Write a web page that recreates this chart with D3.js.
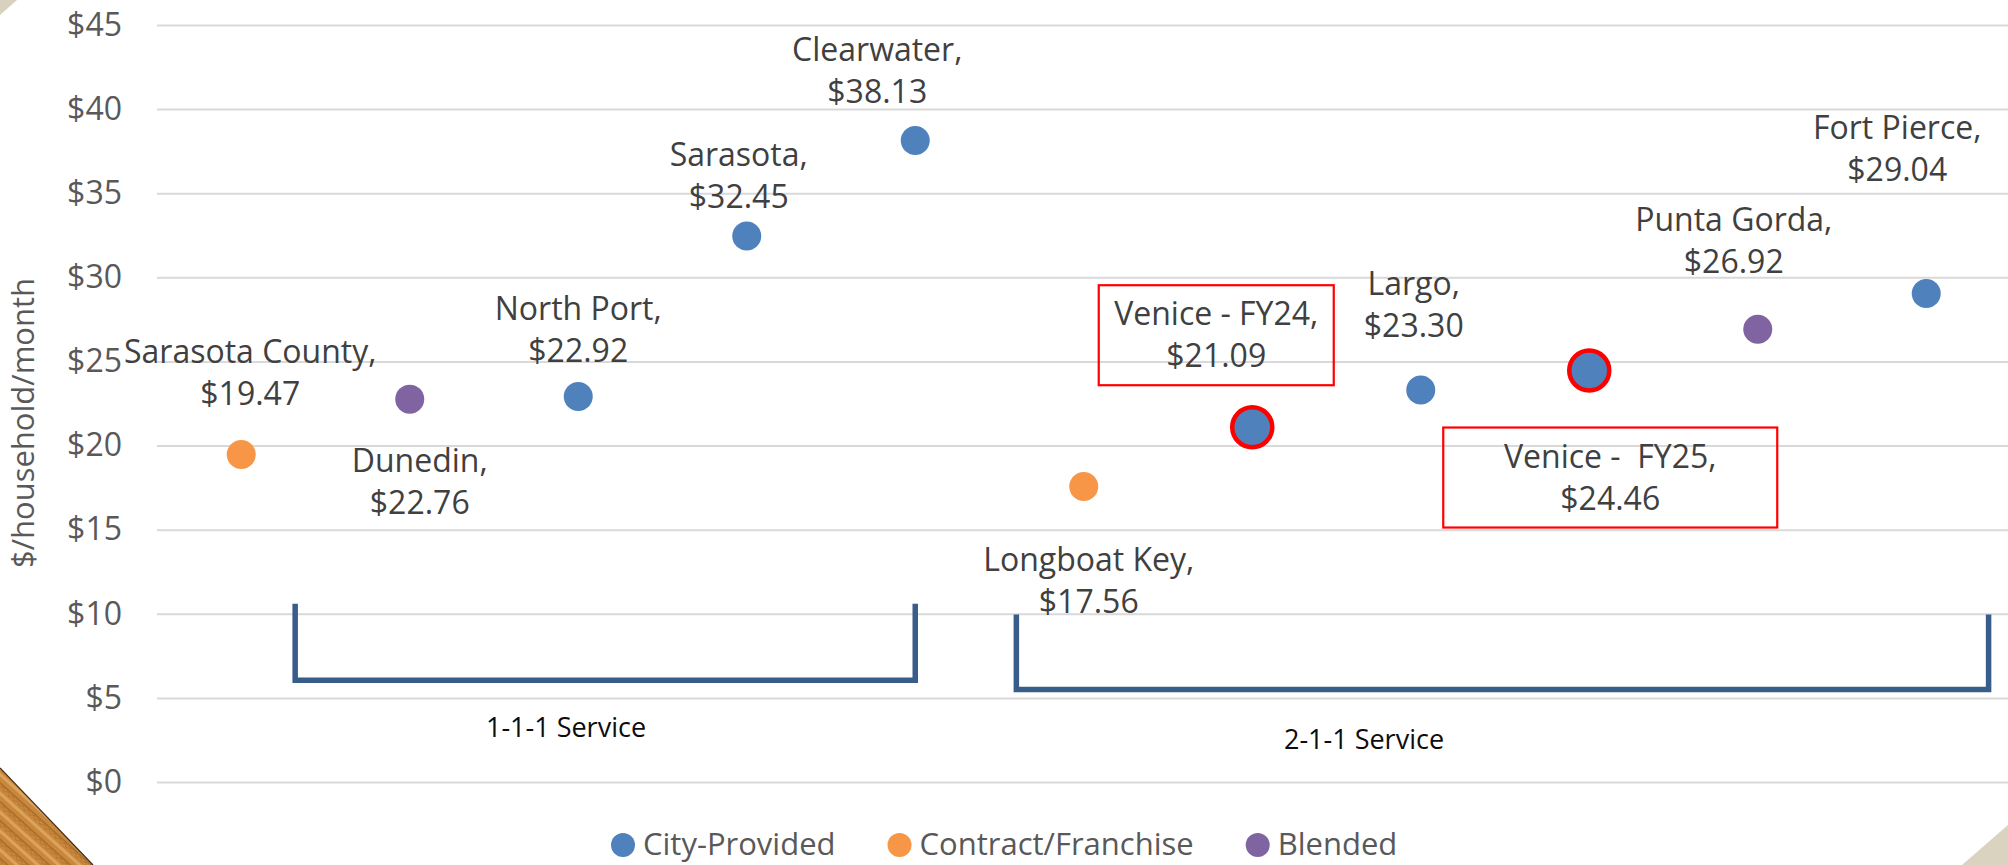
<!DOCTYPE html>
<html>
<head>
<meta charset="utf-8">
<script src="https://cdn.jsdelivr.net/npm/d3@7"></script>
<style>
  html, body { margin: 0; padding: 0; background: #fff; overflow: hidden; }
  svg { display: block; font-family: 'Open Sans', 'Noto Sans', sans-serif; }
</style>
</head>
<body>
<script>
// Data
const cities = ['Sarasota County', 'Dunedin', 'North Port', 'Sarasota', 'Clearwater',
  'Longboat Key', 'Venice - FY24', 'Largo', 'Venice -  FY25', 'Punta Gorda', 'Fort Pierce'];
const rates = [19.47, 22.76, 22.92, 32.45, 38.13, 17.56, 21.09, 23.30, 24.46, 26.92, 29.04];
const serviceTypes = ['Contract/Franchise', 'Blended', 'City-Provided', 'City-Provided', 'City-Provided',
  'Contract/Franchise', 'City-Provided', 'City-Provided', 'City-Provided', 'Blended', 'City-Provided'];
const highlighted = ['Venice - FY24', 'Venice -  FY25'];
const legendItems = ['City-Provided', 'Contract/Franchise', 'Blended'];
const yTicks = [0, 5, 10, 15, 20, 25, 30, 35, 40, 45];

// Service groups (bracket spans, in categories and $ values)
const groupNames = ['1-1-1 Service', '2-1-1 Service'];
const groupFrom = ['Sarasota County', 'Longboat Key'];
const groupTo = ['Clearwater', 'Fort Pierce'];
const groupTop = [10.6, 9.95];
const groupBottom = [6.05, 5.5];

// Layout: label offsets from each point (px), boxes, bracket end shifts (in bands)
const labelOffsets = [[9, -102], [10, 62], [0, -87], [-8, -81], [-38, -91], [5, 73],
  [-36, -113], [-7, -106], [21, 86], [-24, -109], [-29, -165]];
const boxSizes = { 'Venice - FY24': [235, 100], 'Venice -  FY25': [334, 100] };
const groupShift = [[0.32, 0], [-0.4, 0.37]];
const groupLabelPos = [[566, 737], [1364, 749]];

const W = 2008, H = 865;
const colors = d3.scaleOrdinal()
  .domain(legendItems)
  .range(['#4F81BD', '#F79646', '#8064A2']);

const svg = d3.select('body').append('svg')
  .attr('width', W)
  .attr('height', H);

// Slide decorations
const defs = svg.append('defs');
const pat = defs.append('pattern')
  .attr('id', 'wood')
  .attr('patternUnits', 'userSpaceOnUse')
  .attr('width', 14).attr('height', 14)
  .attr('patternTransform', 'rotate(42)');
pat.append('rect').attr('width', 14).attr('height', 14).attr('fill', '#C8883C');
pat.append('rect').attr('y', 0).attr('width', 14).attr('height', 3).attr('fill', '#DDA25C');
pat.append('rect').attr('y', 7).attr('width', 14).attr('height', 1.5).attr('fill', '#A9692A');
pat.append('path').attr('d', 'M0,12 L4,9 L7,12 L11,9 L14,12').attr('stroke', '#B27130').attr('fill', 'none');

svg.append('polygon')
  .attr('points', '0,0 17,0 0,15')
  .attr('fill', '#D8D1BE');
svg.append('polygon')
  .attr('points', '0,768 93,865 0,865')
  .attr('fill', 'url(#wood)');
svg.append('line')
  .attr('x1', 0).attr('y1', 768).attr('x2', 93).attr('y2', 865)
  .attr('stroke', '#3a2a1a').attr('stroke-width', 1.2);
svg.append('polygon')
  .attr('points', '1962,865 2008,825 2008,865')
  .attr('fill', '#D9D3C0');

// Scales
const x = d3.scaleBand().domain(cities).range([157, 2010.5]);
const cx = c => x(c) + x.bandwidth() / 2;
const y = d3.scaleLinear().domain([0, 45]).range([782, 25]);

// Y axis with gridlines
const yAxis = svg.append('g')
  .attr('transform', 'translate(157,0)')
  .call(d3.axisLeft(y).tickValues(yTicks).tickSize(-(2010.5 - 157)).tickFormat(d => '$' + d));
yAxis.select('.domain').remove();
yAxis.selectAll('line').attr('stroke', '#D9D9D9').attr('stroke-width', 2);
yAxis.selectAll('text')
  .attr('x', -35)
  .attr('fill', '#595959')
  .style('font-size', '32px')
  .style('font-family', "'Open Sans', sans-serif");

svg.append('text')
  .attr('transform', 'translate(34,423) rotate(-90)')
  .attr('text-anchor', 'middle')
  .attr('fill', '#595959')
  .style('font-size', '31px')
  .text('$/household/month');

// Service brackets
const bracketLine = d3.line();
groupNames.forEach((name, i) => {
  const step = x.step();
  const xl = cx(groupFrom[i]) + groupShift[i][0] * step;
  const xr = cx(groupTo[i]) + groupShift[i][1] * step;
  const yt = y(groupTop[i]);
  const yb = y(groupBottom[i]);
  svg.append('path')
    .attr('d', bracketLine([[xl, yt], [xl, yb], [xr, yb], [xr, yt]]))
    .attr('fill', 'none')
    .attr('stroke', '#385D8A')
    .attr('stroke-width', 5.5)
    .attr('stroke-linejoin', 'miter');
  svg.append('text')
    .attr('x', groupLabelPos[i][0])
    .attr('y', groupLabelPos[i][1])
    .attr('text-anchor', 'middle')
    .attr('fill', '#0d0d0d')
    .style('font-size', '27px')
    .text(name);
});

// Points
const points = cities.map((c, i) => ({ city: c, rate: rates[i], type: serviceTypes[i], off: labelOffsets[i] }));

svg.selectAll('circle.dot')
  .data(points)
  .enter()
  .append('circle')
  .attr('class', 'dot')
  .attr('cx', d => cx(d.city))
  .attr('cy', d => y(d.rate))
  .attr('r', d => highlighted.includes(d.city) ? 20 : 14.5)
  .attr('fill', d => colors(d.type))
  .attr('stroke', d => highlighted.includes(d.city) ? '#FF0000' : 'none')
  .attr('stroke-width', 4.5);

// Data labels
const labels = svg.selectAll('text.lbl')
  .data(points)
  .enter()
  .append('text')
  .attr('class', 'lbl')
  .attr('text-anchor', 'middle')
  .attr('fill', '#404040')
  .style('font-size', '32px')
  .style('white-space', 'pre');
labels.append('tspan')
  .attr('x', d => cx(d.city) + d.off[0])
  .attr('y', d => y(d.rate) + d.off[1] + 11)
  .text(d => d.city + ',');
labels.append('tspan')
  .attr('x', d => cx(d.city) + d.off[0])
  .attr('dy', 42)
  .text(d => '$' + d3.format('.2f')(d.rate));

// Red boxes around Venice labels
svg.selectAll('rect.box')
  .data(points.filter(d => boxSizes[d.city]))
  .enter()
  .append('rect')
  .attr('class', 'box')
  .attr('x', d => cx(d.city) + d.off[0] - boxSizes[d.city][0] / 2)
  .attr('y', d => y(d.rate) + d.off[1] + 21 - boxSizes[d.city][1] / 2)
  .attr('width', d => boxSizes[d.city][0])
  .attr('height', d => boxSizes[d.city][1])
  .attr('fill', 'none')
  .attr('stroke', '#FF0000')
  .attr('stroke-width', 2.2);

// Legend
const leg = svg.append('g').attr('transform', 'translate(611,845)');
let lx = 0;
legendItems.forEach(name => {
  const g = leg.append('g').attr('transform', `translate(${lx},0)`);
  g.append('circle').attr('cx', 12).attr('cy', 0).attr('r', 12).attr('fill', colors(name));
  const t = g.append('text')
    .attr('x', 32)
    .attr('y', 10)
    .attr('fill', '#595959')
    .style('font-size', '31px')
    .text(name);
  lx += 32 + t.node().getComputedTextLength() + 52;
});
</script>
</body>
</html>
